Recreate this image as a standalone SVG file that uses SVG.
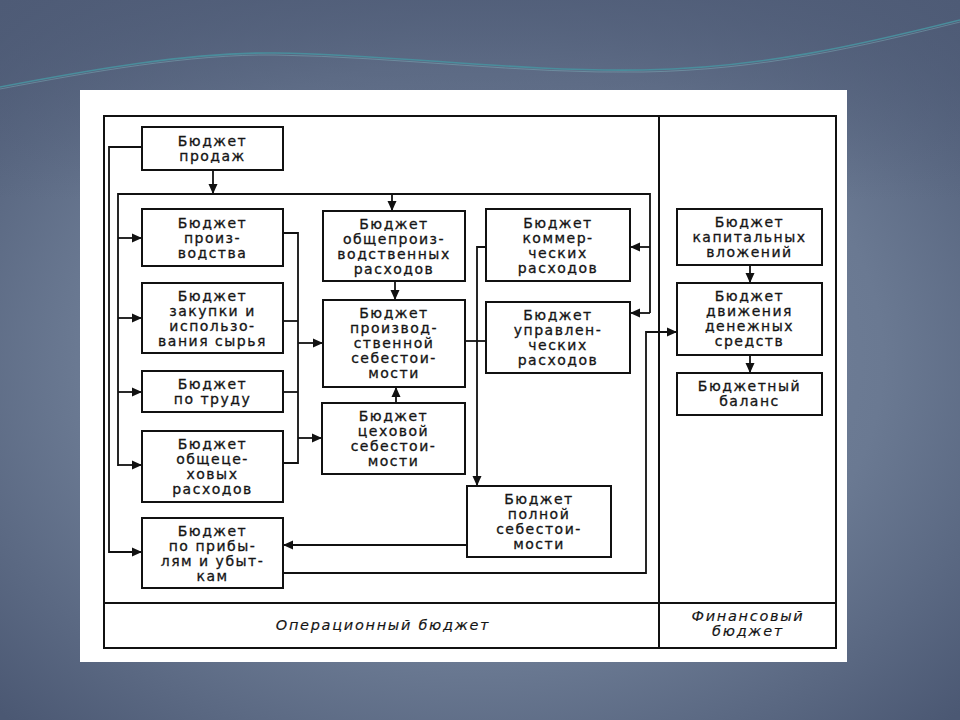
<svg xmlns="http://www.w3.org/2000/svg" width="960" height="720" viewBox="0 0 960 720">
<defs>
<radialGradient id="bg" cx="50%" cy="50%" r="70%">
<stop offset="0" stop-color="#7b8aa3"/>
<stop offset="0.6" stop-color="#6a7992"/>
<stop offset="1" stop-color="#4b5873"/>
</radialGradient>
<linearGradient id="topfade" x1="0" y1="0" x2="0" y2="1">
<stop offset="0" stop-color="#4f5c77" stop-opacity="0.8"/>
<stop offset="1" stop-color="#4f5c77" stop-opacity="0"/>
</linearGradient>
<marker id="ah" viewBox="0 0 10 10" refX="10" refY="5" markerWidth="10" markerHeight="10" markerUnits="userSpaceOnUse" orient="auto">
<path d="M0,0.5 L10,5 L0,9.5 Z" fill="#111"/>
</marker>
</defs>
<style>
.box{fill:#fff;stroke:#111;stroke-width:2}
.frame{fill:none;stroke:#111;stroke-width:2}
.c{fill:none;stroke:#111;stroke-width:1.8}
.a{fill:none;stroke:#111;stroke-width:1.8;marker-end:url(#ah)}
text{font-family:"DejaVu Sans","Liberation Sans",sans-serif;font-size:14px;fill:#151515;stroke:#151515;stroke-width:0.3;text-anchor:middle;letter-spacing:1.5px}
.it{font-style:italic;font-size:14.5px;letter-spacing:1.7px;stroke-width:0.15}
</style>
<rect x="0" y="0" width="960" height="720" fill="url(#bg)"/>
<rect x="0" y="0" width="960" height="200" fill="url(#topfade)"/>
<path d="M0,87 C90,70 190,52 275,53 C400,55 520,72 643,70 C760,68 860,45 960,20" fill="none" stroke="#4a8d9c" stroke-width="1.6"/>
<path d="M0,89 C90,72 190,54 275,55 C400,57 520,74 643,72 C760,70 860,47 960,22" fill="none" stroke="#7fb0bb" stroke-width="0.8" opacity="0.6"/>
<rect x="80" y="90" width="767" height="572" fill="#fff"/>

<g id="frame">
<rect class="frame" x="104" y="116" width="732" height="532"/>
<line class="frame" x1="659" y1="116" x2="659" y2="648"/>
<line class="frame" x1="104" y1="603" x2="836" y2="603"/>
<text class="it" x="383" y="630">Операционный  бюджет</text>
<text class="it" x="748" y="621">Финансовый</text>
<text class="it" x="748" y="636">бюджет</text>
</g>

<g id="connectors">
<polyline class="a" points="142,147 109,147 109,552 142,552"/>
<line class="a" x1="213" y1="170" x2="213" y2="194"/>
<polyline class="c" points="118,466 118,194 650,194 650,313"/>
<line class="a" x1="392" y1="194" x2="392" y2="211"/>
<line class="a" x1="118" y1="238" x2="142" y2="238"/>
<line class="a" x1="118" y1="318" x2="142" y2="318"/>
<line class="a" x1="118" y1="392" x2="142" y2="392"/>
<line class="a" x1="118" y1="465" x2="142" y2="465"/>
<polyline class="c" points="283,233 298,233 298,463 283,463"/>
<line class="c" x1="283" y1="321" x2="298" y2="321"/>
<line class="c" x1="283" y1="392" x2="298" y2="392"/>
<line class="a" x1="298" y1="343" x2="323" y2="343"/>
<line class="a" x1="298" y1="438" x2="322" y2="438"/>
<line class="a" x1="395" y1="281" x2="395" y2="300"/>
<line class="a" x1="396" y1="403" x2="396" y2="387"/>
<line class="a" x1="650" y1="247" x2="630" y2="247"/>
<line class="a" x1="650" y1="313" x2="630" y2="313"/>
<polyline class="a" points="486,247 477,247 477,486"/>
<line class="c" x1="465" y1="341" x2="486" y2="341"/>
<line class="a" x1="467" y1="545" x2="283" y2="545"/>
<polyline class="a" points="283,573 646,573 646,332 677,332"/>
<line class="a" x1="750" y1="265" x2="750" y2="283"/>
<line class="a" x1="750" y1="355" x2="750" y2="373"/>
</g>

<g id="sales"><rect class="box" x="142" y="127" width="141" height="43"/>
<text x="212.5" y="146">Бюджет</text><text x="212.5" y="161">продаж</text></g>

<g id="production"><rect class="box" x="142" y="209" width="141" height="57"/>
<text x="212.5" y="228">Бюджет</text><text x="212.5" y="243">произ-</text><text x="212.5" y="258">водства</text></g>

<g id="purchases"><rect class="box" x="142" y="283" width="141" height="70"/>
<text x="212.5" y="301">Бюджет</text><text x="212.5" y="316">закупки и</text><text x="212.5" y="331">использо-</text><text x="212.5" y="346">вания сырья</text></g>

<g id="labor"><rect class="box" x="142" y="371" width="141" height="41"/>
<text x="212.5" y="389">Бюджет</text><text x="212.5" y="404">по труду</text></g>

<g id="shop-overhead"><rect class="box" x="142" y="431" width="141" height="71"/>
<text x="212.5" y="449">Бюджет</text><text x="212.5" y="464">общеце-</text><text x="212.5" y="479">ховых</text><text x="212.5" y="494">расходов</text></g>

<g id="profit-loss"><rect class="box" x="142" y="518" width="141" height="70"/>
<text x="212.5" y="536">Бюджет</text><text x="212.5" y="551">по прибы-</text><text x="212.5" y="566">лям и убыт-</text><text x="212.5" y="581">кам</text></g>

<g id="general-production"><rect class="box" x="323" y="211" width="142" height="70"/>
<text x="394" y="229">Бюджет</text><text x="394" y="244">общепроиз-</text><text x="394" y="259">водственных</text><text x="394" y="274">расходов</text></g>

<g id="production-cost"><rect class="box" x="323" y="300" width="142" height="87"/>
<text x="394" y="318">Бюджет</text><text x="394" y="333">производ-</text><text x="394" y="348">ственной</text><text x="394" y="363">себестои-</text><text x="394" y="378">мости</text></g>

<g id="shop-cost"><rect class="box" x="322" y="403" width="143" height="71"/>
<text x="393.5" y="421">Бюджет</text><text x="393.5" y="436">цеховой</text><text x="393.5" y="451">себестои-</text><text x="393.5" y="466">мости</text></g>

<g id="commercial"><rect class="box" x="486" y="209" width="144" height="72"/>
<text x="558" y="228">Бюджет</text><text x="558" y="243">коммер-</text><text x="558" y="258">ческих</text><text x="558" y="273">расходов</text></g>

<g id="admin"><rect class="box" x="486" y="302" width="144" height="71"/>
<text x="558" y="320">Бюджет</text><text x="558" y="335">управлен-</text><text x="558" y="350">ческих</text><text x="558" y="365">расходов</text></g>

<g id="full-cost"><rect class="box" x="467" y="486" width="144" height="71"/>
<text x="539" y="504">Бюджет</text><text x="539" y="519">полной</text><text x="539" y="534">себестои-</text><text x="539" y="549">мости</text></g>

<g id="capital"><rect class="box" x="677" y="209" width="145" height="56"/>
<text x="749.5" y="227">Бюджет</text><text x="749.5" y="242">капитальных</text><text x="749.5" y="257">вложений</text></g>

<g id="cash-flow"><rect class="box" x="677" y="283" width="145" height="72"/>
<text x="749.5" y="301">Бюджет</text><text x="749.5" y="316">движения</text><text x="749.5" y="331">денежных</text><text x="749.5" y="346">средств</text></g>

<g id="balance"><rect class="box" x="677" y="373" width="145" height="42"/>
<text x="749.5" y="391">Бюджетный</text><text x="749.5" y="406">баланс</text></g>
</svg>
